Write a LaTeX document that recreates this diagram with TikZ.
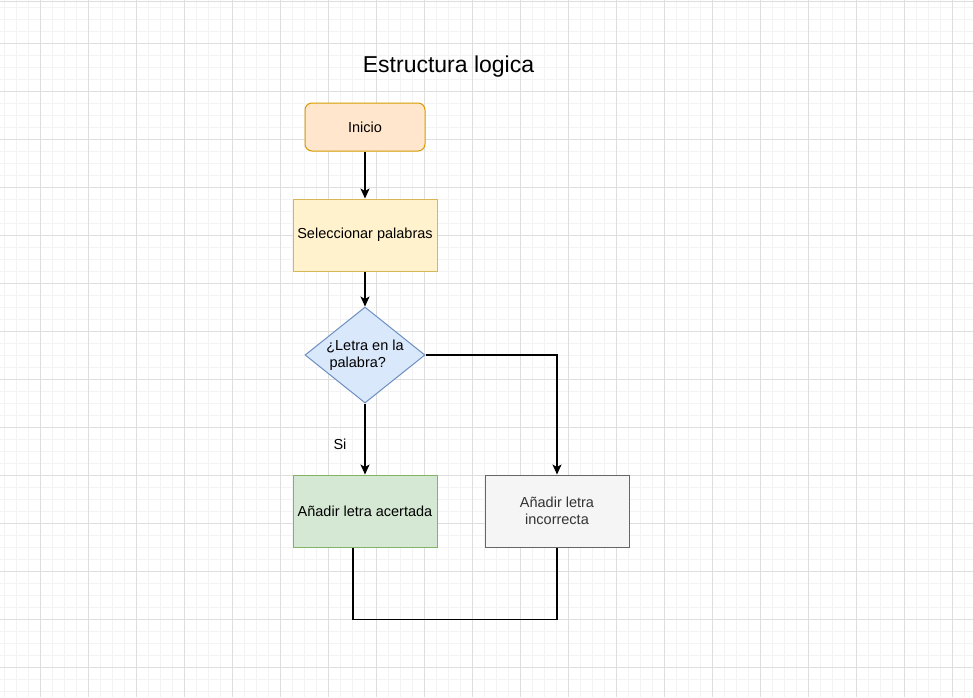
\documentclass[tikz,border=0pt]{standalone}
\usepackage{fontspec}
\setmainfont{Liberation Sans}
\usetikzlibrary{shapes.geometric,arrows.meta}
\definecolor{inifill}{HTML}{FFE6CC}
\definecolor{inidraw}{HTML}{D79B00}
\definecolor{selfill}{HTML}{FFF2CC}
\definecolor{seldraw}{HTML}{D6B656}
\definecolor{askfill}{HTML}{DAE8FC}
\definecolor{askdraw}{HTML}{6C8EBF}
\definecolor{okfill}{HTML}{D5E8D4}
\definecolor{okdraw}{HTML}{82B366}
\definecolor{badfill}{HTML}{F5F5F5}
\definecolor{baddraw}{HTML}{666666}
\definecolor{badtext}{HTML}{333333}
\definecolor{gridminor}{HTML}{F3F3F3}
\definecolor{gridmajor}{HTML}{DEDEDE}
\tikzset{
  txt/.style={font=\fontsize{14.5}{17}\selectfont},
  box/.style={txt,draw,minimum width=144pt,minimum height=72pt,inner sep=0pt,align=center},
  wire/.style={draw=black,line width=1.1pt}
}
\begin{document}
\begin{tikzpicture}[x=1pt,y=-1pt,>={Stealth[length=10pt,width=9pt,inset=2.5pt]}]
\useasboundingbox (0,0) rectangle (973,697);
\fill[white] (0,0) rectangle (973,697);
% grid
\foreach \x in {4,16,...,964} \draw[gridminor,line width=1pt] (\x,0) -- (\x,697);
\foreach \y in {7,19,...,695} \draw[gridminor,line width=1pt] (0,\y) -- (973,\y);
\foreach \x in {40,88,...,964} \draw[gridmajor,line width=1pt] (\x,0) -- (\x,697);
\foreach \y in {43,91,...,695} \draw[gridmajor,line width=1pt] (0,\y) -- (973,\y);
\draw[gridmajor,line width=1pt] (0,1.5) -- (973,1.5);

\node[font=\fontsize{23}{27}\selectfont] (title) at (448.5,67) {Estructura logica};

\node[txt,draw=inidraw,fill=inifill,line width=1pt,rounded corners=7pt,
  minimum width=120pt,minimum height=48pt,inner sep=0pt] (inicio) at (365,127) {Inicio};
\node[box,draw=seldraw,fill=selfill,line width=1pt] (selec) at (365,235) {Seleccionar palabras};
\node[txt,diamond,draw=askdraw,fill=askfill,line width=1pt,aspect=1.25,
  minimum width=120pt,minimum height=96pt,inner sep=0pt,align=center] (letra) at (365,355)
  {¿Letra en la\\palabra?\hspace*{1em}};
\node[box,draw=okdraw,fill=okfill,line width=1pt] (acierto) at (365,511) {Añadir letra acertada};
\node[box,draw=baddraw,fill=badfill,line width=1pt,text=badtext] (fallo) at (557,511) {Añadir letra\\incorrecta};

\draw[wire,->] (inicio) -- (selec);
\draw[wire,->] (selec) -- (letra);
\draw[wire,->] (letra) -- node[txt,pos=0.58,left=18pt,inner sep=0pt] (si) {Si} (acierto);
\draw[wire,->] (letra.east) -| (fallo.north);
\draw[wire] ([xshift=-12pt]acierto.south) -- ++(0,72) -| (fallo.south);
\end{tikzpicture}
\end{document}
